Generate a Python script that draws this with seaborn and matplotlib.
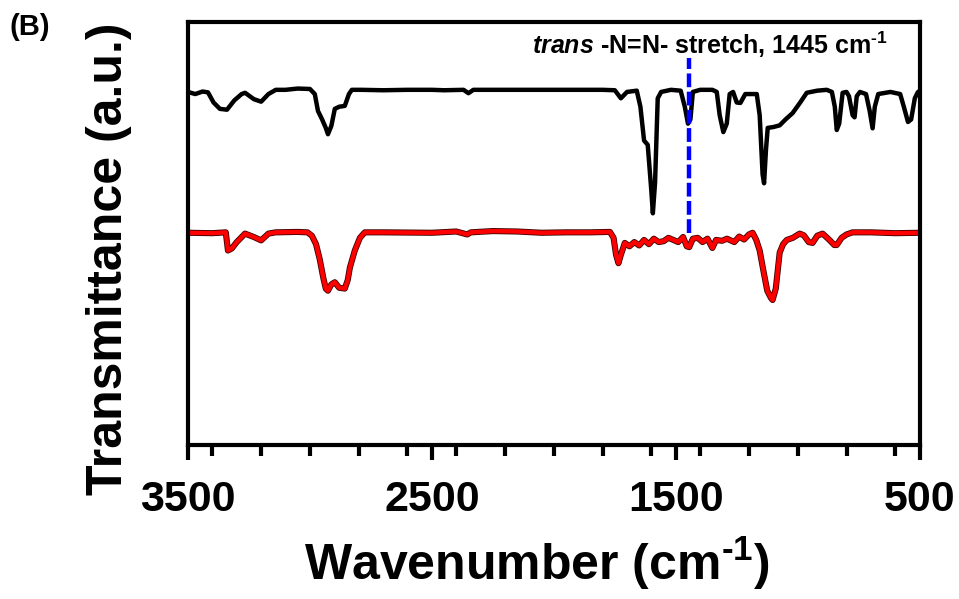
import matplotlib
matplotlib.use("Agg")
import matplotlib.pyplot as plt
import matplotlib.patheffects as pe
from matplotlib.ticker import MultipleLocator
import pandas as pd
import seaborn as sns

sns.set_theme(style="white")
plt.rcParams["font.family"] = ["Liberation Sans", "DejaVu Sans"]
plt.rcParams["font.weight"] = "bold"
plt.rcParams["text.color"] = "black"
plt.rcParams["axes.labelcolor"] = "black"
plt.rcParams["xtick.color"] = "black"
plt.rcParams["mathtext.fontset"] = "custom"
plt.rcParams["mathtext.rm"] = "Liberation Sans:bold"
plt.rcParams["mathtext.bf"] = "Liberation Sans:bold"
plt.rcParams["mathtext.it"] = "Liberation Sans:bold:italic"

# 上のスペクトル (黒)
black_wn = [3500, 3470, 3440, 3418, 3395, 3369, 3340, 3310, 3280, 3266, 3230, 3200, 3170, 3140,
            3100, 3050, 3000, 2980, 2967, 2950, 2935, 2926, 2912, 2898, 2880, 2857, 2840, 2828,
            2790, 2700, 2600, 2500, 2450, 2370, 2350, 2330, 2300, 2200, 2100, 2000, 1900, 1800,
            1750, 1725, 1700, 1660, 1645, 1630, 1615, 1600, 1594, 1585, 1574, 1560, 1520, 1480,
            1463, 1450, 1440, 1430, 1400, 1350, 1332, 1320, 1305, 1291, 1279, 1265, 1250, 1235,
            1215, 1190, 1168, 1156, 1144, 1138, 1130, 1123, 1100, 1074, 1050, 1021, 990, 963,
            920, 881, 860, 848, 840, 830, 816, 800, 790, 775, 767, 758, 745, 720, 705, 693, 684,
            670, 620, 580, 565, 548, 535, 520, 508, 500]
black_t = [83.5, 83.0, 83.6, 83.4, 81.0, 79.5, 79.3, 81.5, 83.0, 83.3, 81.8, 81.2, 83.0, 84.0,
           84.0, 84.3, 84.2, 83.0, 79.0, 77.0, 75.0, 73.5, 75.5, 79.5, 80.0, 80.2, 83.0, 84.0,
           84.0, 83.9, 84.0, 84.0, 83.9, 84.0, 83.2, 84.0, 84.0, 84.0, 84.0, 84.0, 84.0, 84.0,
           83.9, 82.0, 83.5, 83.8, 80.0, 72.0, 71.0, 60.0, 54.8, 62.0, 82.0, 83.5, 84.0, 83.8,
           80.0, 76.0, 77.0, 83.5, 84.0, 84.0, 83.5, 78.0, 74.0, 76.0, 83.0, 83.5, 81.0, 80.9,
           83.0, 83.0, 83.0, 78.0, 64.0, 61.9, 70.0, 75.0, 75.2, 75.6, 77.0, 78.5, 81.0, 83.3,
           83.8, 84.0, 83.5, 80.0, 74.5, 76.0, 83.3, 83.5, 82.5, 78.0, 77.5, 82.5, 83.5, 83.0,
           79.0, 74.9, 80.0, 83.0, 83.5, 83.0, 80.0, 76.4, 77.0, 82.0, 83.4, 83.8]

# 下のスペクトル (赤)
red_wn = [3500, 3400, 3345, 3336, 3320, 3300, 3266, 3230, 3200, 3170, 3140, 3050, 3010, 2992,
          2975, 2960, 2945, 2935, 2926, 2912, 2898, 2880, 2857, 2845, 2836, 2816, 2795, 2775,
          2700, 2500, 2400, 2355, 2340, 2250, 2150, 2050, 1950, 1850, 1770, 1755, 1745, 1735,
          1725, 1709, 1690, 1670, 1650, 1630, 1610, 1590, 1570, 1550, 1530, 1510, 1490, 1470,
          1455, 1445, 1430, 1410, 1390, 1370, 1350, 1335, 1310, 1290, 1260, 1240, 1220, 1200,
          1185, 1170, 1156, 1140, 1125, 1110, 1103, 1090, 1074, 1060, 1045, 1020, 992, 975,
          955, 939, 920, 898, 870, 850, 840, 820, 800, 775, 700, 600, 500]
red_t = [50.2, 50.1, 50.3, 46.0, 46.5, 48.0, 50.0, 49.2, 48.4, 50.0, 50.3, 50.4, 50.3, 49.5,
         47.5, 44.0, 39.5, 37.0, 36.5, 38.0, 38.5, 37.2, 37.0, 39.0, 42.0, 46.0, 49.0, 50.3,
         50.3, 50.2, 50.5, 49.8, 50.3, 50.6, 50.5, 50.2, 50.3, 50.3, 50.4, 49.0, 45.0, 43.0,
         45.0, 47.8, 47.0, 48.0, 47.2, 48.5, 47.5, 48.8, 48.0, 48.2, 49.0, 48.5, 48.0, 49.2,
         47.0, 46.8, 48.8, 49.0, 48.0, 48.8, 46.6, 48.5, 48.3, 48.8, 48.0, 49.3, 48.6, 49.8,
         50.2, 48.5, 46.0, 41.0, 36.5, 34.8, 34.3, 37.0, 45.5, 47.5, 48.5, 49.0, 50.0, 49.6,
         48.0, 47.8, 49.5, 50.0, 48.5, 47.3, 47.3, 49.0, 49.8, 50.3, 50.3, 50.1, 50.2]

azo_peak = 1445
azo_ymin, azo_ymax = 50.1, 91.5
xticks = [3500, 2500, 1500, 500]

black_df = pd.DataFrame({"wn": black_wn, "t": black_t})
red_df = pd.DataFrame({"wn": red_wn, "t": red_t})

fig = plt.figure(figsize=(9.59, 5.99), dpi=100)
ax = fig.add_axes([0.196, 0.257, 0.763, 0.706])

sns.lineplot(data=black_df, x="wn", y="t", ax=ax, color="black", linewidth=3.2,
             estimator=None, sort=False)
sns.lineplot(data=red_df, x="wn", y="t", ax=ax, color="#ff0000", linewidth=3.2,
             estimator=None, sort=False,
             path_effects=[pe.Stroke(linewidth=4.4, foreground="#3a0000"), pe.Normal()])

ax.vlines(azo_peak, azo_ymin, azo_ymax, colors="#0000ff", linewidth=3.2,
          linestyles=(0, (3.1, 1.0)), zorder=5)

ax.text(1361, 94.6, r"$\mathit{trans}$ -N=N- stretch, 1445 cm$^{\text{-1}}$",
        ha="center", va="center", fontsize=18, fontweight="bold")

ax.set_xlim(3500, 500)
ax.set_ylim(0, 100)
ax.set_xticks(xticks)
ax.xaxis.set_minor_locator(MultipleLocator(200))
ax.set_yticks([])
ax.tick_params(axis="x", which="major", direction="out", length=11, width=3,
               pad=14, labelsize=31, bottom=True, top=False)
ax.tick_params(axis="x", which="minor", direction="out", length=8, width=3,
               bottom=True, top=False)
for lab in ax.get_xticklabels():
    lab.set_fontweight("bold")

for s in ax.spines.values():
    s.set_visible(True)
    s.set_color("black")
    s.set_linewidth(3.0)

ax.set_xlabel(r"Wavenumber (cm$^{\text{-1}}$)", fontsize=36, fontweight="bold", labelpad=11)
ax.xaxis.label.set_x(0.477)
ax.set_ylabel("Transmittance (a.u.)", fontsize=36, fontweight="bold")
ax.yaxis.set_label_coords(-0.076, 0.44)

fig.text(0.010, 0.978, "(B)", fontsize=21, fontweight="bold", va="top", ha="left")

fig.savefig("out.png", dpi=100)
